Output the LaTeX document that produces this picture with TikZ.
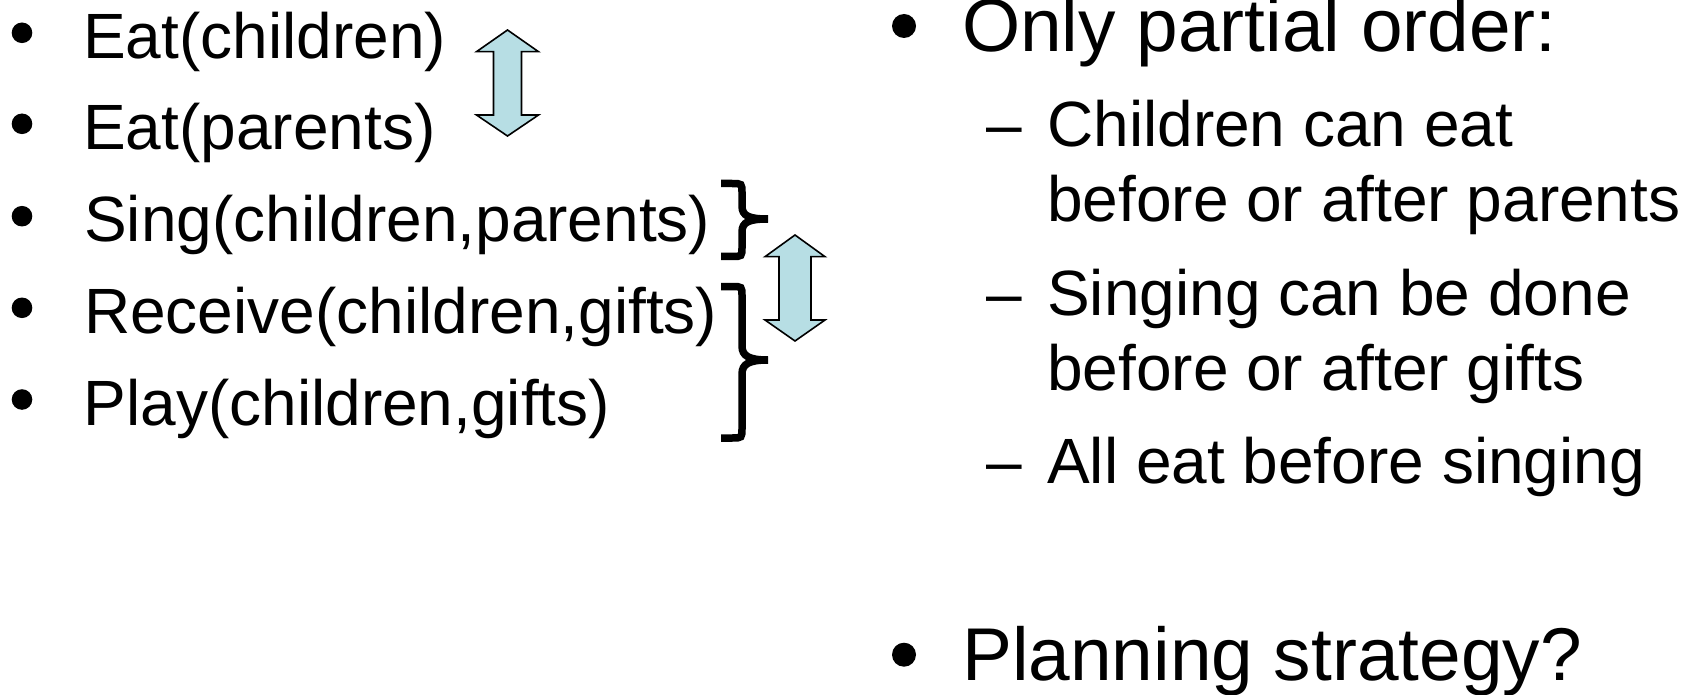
\documentclass[tikz,border=0pt]{standalone}
\usepackage{fontspec}
\setmainfont{Liberation Sans}
\definecolor{arrowfill}{RGB}{183,222,228}

\begin{document}
\begin{tikzpicture}[x=1pt, y=-1pt,
  item/.style={anchor=base west, inner sep=0pt, font=\fontsize{64}{77}\selectfont},
  head/.style={anchor=base west, inner sep=0pt, font=\fontsize{74.8}{90}\selectfont},
  brace/.style={line width=7.5pt, line cap=butt},
  dblarrow/.style={draw=black, line width=1.6pt, fill=arrowfill, line join=miter}]
  \useasboundingbox (0,0) rectangle (1698,695);

  % Actions
  \fill (22,32.8) circle (10.3pt);
  \node[item] (eatC) at (83,58.3) {Eat(children)};
  \fill (22,123.8) circle (10.3pt);
  \node[item] (eatP) at (83,149.3) {Eat(parents)};
  \fill (22,216.2) circle (10.3pt);
  \node[item] (sing) at (84,241.7) {Sing(children,parents)};
  \fill (22,307.8) circle (10.3pt);
  \node[item] (recv) at (84,333.3) {Receive(children,gifts)};
  \fill (22,399.5) circle (10.3pt);
  \node[item] (play) at (83.5,425) {Play(children,gifts)};

  % Braces
  \draw[brace] (721,183.5) -- (732,183.5) .. controls (742,183.5) .. (742,193)
    -- (742,206) .. controls (742,216) and (749,219) .. (768,219)
    .. controls (749,219) and (742,222) .. (742,232)
    -- (742,247) .. controls (742,256.5) .. (732,256.5) -- (721,256.5);
  \draw[brace] (721,286.5) -- (732,286.5) .. controls (742,286.5) .. (742,296)
    -- (742,346) .. controls (742,356) and (749,360) .. (768,360)
    .. controls (749,360) and (742,364) .. (742,374)
    -- (742,428) .. controls (742,438) .. (732,438) -- (721,438);

  % Swaps
  \draw[dblarrow] (507.5,30) -- (538.5,51.7) -- (521.5,51.7) -- (521.5,115)
    -- (538.5,115) -- (507.5,136) -- (476.5,115) -- (493.5,115)
    -- (493.5,51.7) -- (476.5,51.7) -- cycle;
  \draw[dblarrow] (795,235) -- (825,256.7) -- (811,256.7) -- (811,320)
    -- (825,320) -- (795,341) -- (765,320) -- (779,320)
    -- (779,256.7) -- (765,256.7) -- cycle;

  % Notes
  \fill (904,26) circle (12pt);
  \node[head] (order) at (962,52) {Only partial order:};
  \node[item] (dashA) at (986,147) {--};
  \node[item] (childA) at (1047,147) {Children can eat};
  \node[item] (childB) at (1047,222) {before or after parents};
  \node[item] (dashB) at (986,315) {--};
  \node[item] (singA) at (1047,315) {Singing can be done};
  \node[item] (singB) at (1047,390) {before or after gifts};
  \node[item] (dashC) at (986,483) {--};
  \node[item] (allEat) at (1047,483) {All eat before singing};
  \fill (904,654.7) circle (12pt);
  \node[head] (plan) at (962,680) {Planning strategy?};
\end{tikzpicture}
\end{document}
